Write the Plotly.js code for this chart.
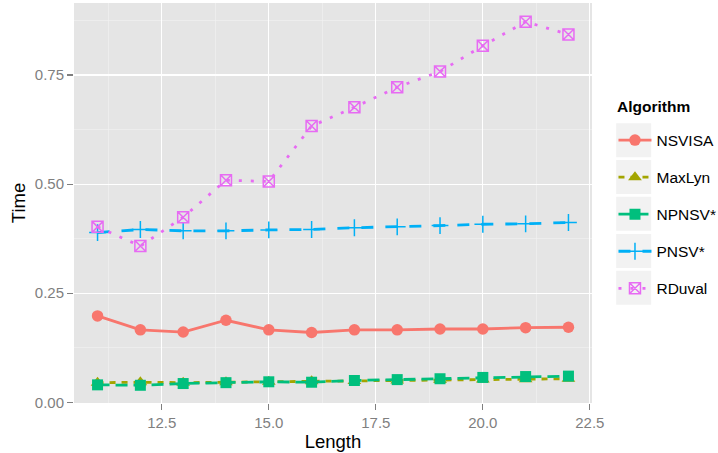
<!DOCTYPE html>
<html><head><meta charset="utf-8">
<script src="https://cdn.plot.ly/plotly-3.0.1.min.js"></script>
<style>html,body{margin:0;padding:0;background:#fff}#chart{width:718px;height:453px}</style>
</head><body><div id="chart"></div>
<script>
const lengths = [11,12,13,14,15,16,17,18,19,20,21,22];
const nsvisa = [0.198,0.166,0.161,0.188,0.166,0.160,0.166,0.166,0.168,0.168,0.171,0.172];
const maxlyn = [0.045,0.046,0.045,0.046,0.047,0.048,0.049,0.050,0.051,0.052,0.053,0.054];
const npnsv  = [0.040,0.039,0.043,0.045,0.047,0.046,0.050,0.052,0.054,0.057,0.059,0.060];
const pnsv   = [0.389,0.396,0.393,0.393,0.395,0.396,0.400,0.402,0.405,0.408,0.409,0.412];
const rduval = [0.402,0.358,0.424,0.509,0.506,0.633,0.676,0.722,0.758,0.817,0.872,0.843];
const names = ['NSVISA','MaxLyn','NPNSV*','PNSV*','RDuval'];
const series = [nsvisa, maxlyn, npnsv, pnsv, rduval];
const colors = ['#F8766D','#A3A500','#00BF7D','#00B0F6','#E76BF3'];
const dashes = ['solid','6px,6px','12px,6px','12px,12px','3px,9px'];
const symbols = ['circle','triangle-up','square','cross-thin','square-x-open'];
const sizes = [11.5,12,11,12,11];

const traces = series.map((s,i)=>({
  x: lengths, y: s, name: names[i], type:'scatter', mode:'lines+markers',
  legendgroup: 'g'+i,
  line: {color: colors[i], width: 2.8, dash: dashes[i]},
  marker: {symbol: symbols[i], size: sizes[i], color: colors[i],
           line: {color: colors[i], width: (i>=3?1.5:0)}}
}));

const L=74, R=592.5, T=3, B=403, W=R-L, H=B-T;
const px = v => (v-L)/W, py = v => (B-v)/H;
const boxTops = [123.3,160,196.7,234,270.7];
const shapes = boxTops.map(t=>({type:'rect', xref:'paper', yref:'paper',
  x0: px(616.7), x1: px(651.7), y0: py(t+34), y1: py(t), fillcolor:'#F2F2F2', line:{width:0}, layer:'below'}));

const layout = {
  width:718, height:453,
  margin:{l:L, r:718-R, t:T, b:453-B, pad:0, autoexpand:false},
  paper_bgcolor:'#FFFFFF', plot_bgcolor:'#E5E5E5',
  font:{family:'Liberation Sans, Arial, sans-serif', size:15, color:'#000'},
  xaxis:{range:[10.45,22.55], dtick:2.5, tick0:0, tickformat:'.1f', showgrid:true,
    gridcolor:'#FFFFFF', gridwidth:1.2, zeroline:false, showline:false,
    ticks:'outside', ticklen:6, tickcolor:'#7F7F7F', tickwidth:1.2,
    tickfont:{size:15, color:'#7F7F7F'},
    minor:{dtick:1.25, tick0:0, showgrid:true, gridcolor:'#F2F2F2', gridwidth:0.6},
    title:{text:'Length', font:{size:18.5, color:'#000'}, standoff:2}},
  yaxis:{range:[-0.0016,0.9150], dtick:0.25, tick0:0, tickformat:'.2f', showgrid:true,
    gridcolor:'#FFFFFF', gridwidth:1.2, zeroline:false, showline:false,
    ticks:'outside', ticklen:6, tickcolor:'#7F7F7F', tickwidth:1.2,
    tickfont:{size:15, color:'#7F7F7F'},
    minor:{dtick:0.125, tick0:0, showgrid:true, gridcolor:'#F2F2F2', gridwidth:0.6},
    title:{text:'Time', font:{size:18.5, color:'#000'}, standoff:4}},
  legend:{x:px(614), y:py(123.5), xanchor:'left', yanchor:'top',
    bgcolor:'rgba(0,0,0,0)', tracegroupgap:13.9, itemwidth:33,
    font:{size:15.5, color:'#000'}},
  annotations:[{text:'<b>Algorithm</b>', xref:'paper', yref:'paper', x:px(616), y:py(106.7),
    xanchor:'left', yanchor:'middle', showarrow:false, font:{size:15.5, color:'#000'}}],
  shapes: shapes,
  showlegend:true
};
Plotly.newPlot('chart', traces, layout, {displayModeBar:false, staticPlot:true});
</script></body></html>
